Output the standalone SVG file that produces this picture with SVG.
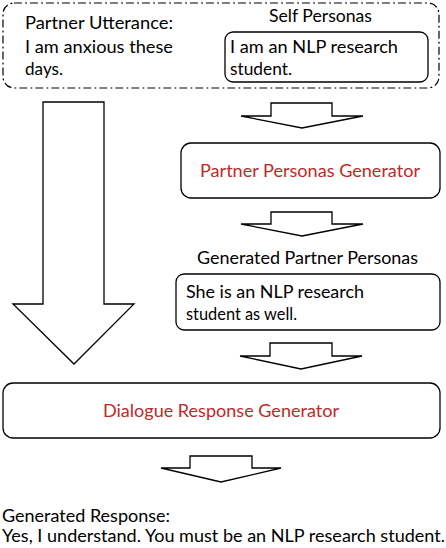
<svg xmlns="http://www.w3.org/2000/svg" width="446" height="548" viewBox="0 0 446 548">
<style>
text{font-family:"Lato","Liberation Sans",sans-serif;font-size:17.5px;fill:#000}
.red{fill:#C0282A}
.box{fill:#fff;stroke:#000;stroke-width:1.3}
.arrow{fill:#fff;stroke:#000;stroke-width:1.3;stroke-linejoin:miter}
.dash{fill:none;stroke:#000;stroke-width:1.2;stroke-dasharray:8 3 2 3}
</style>
<rect width="446" height="548" fill="#fff"/>
<g id="input">
<rect class="dash" x="3" y="3" width="436" height="85" rx="11"/>
<text x="25" y="29" textLength="148" lengthAdjust="spacingAndGlyphs">Partner Utterance:</text>
<text x="25" y="53" textLength="148" lengthAdjust="spacingAndGlyphs">I am anxious these</text>
<text x="25" y="75" textLength="38" lengthAdjust="spacingAndGlyphs">days.</text>
<text x="269" y="22" textLength="103" lengthAdjust="spacingAndGlyphs">Self Personas</text>
</g>
<g id="self-personas">
<rect class="box" x="225" y="32" width="203" height="50" rx="8"/>
<text x="230" y="53" textLength="168" lengthAdjust="spacingAndGlyphs">I am an NLP research</text>
<text x="230" y="75" textLength="62" lengthAdjust="spacingAndGlyphs">student.</text>
</g>
<g id="partner-personas-generator">
<rect class="box" x="181" y="143" width="259" height="55" rx="10"/>
<text class="red" x="200" y="177" textLength="220" lengthAdjust="spacingAndGlyphs">Partner Personas Generator</text>
</g>
<g id="generated-partner-personas">
<text x="197" y="264" textLength="221" lengthAdjust="spacingAndGlyphs">Generated Partner Personas</text>
<rect class="box" x="176" y="274" width="264" height="56" rx="8"/>
<text x="186" y="298" textLength="178" lengthAdjust="spacingAndGlyphs">She is an NLP research</text>
<text x="186" y="320" textLength="111" lengthAdjust="spacingAndGlyphs">student as well.</text>
</g>
<g id="dialogue-response-generator">
<rect class="box" x="3" y="383" width="437" height="55" rx="10"/>
<text class="red" x="103" y="417" textLength="236" lengthAdjust="spacingAndGlyphs">Dialogue Response Generator</text>
</g>
<g id="generated-response">
<text x="2" y="522" textLength="168" lengthAdjust="spacingAndGlyphs">Generated Response:</text>
<text x="2" y="542" textLength="443" lengthAdjust="spacingAndGlyphs">Yes, I understand. You must be an NLP research student.</text>
</g>
<g id="connectors">
<polygon class="arrow" points="43,102 104,102 104,304 134,304 74,364 13,304 43,304"/>
<polygon class="arrow" points="271,103 332,103 332,116 363,116 302,128 241,116 271,116"/>
<polygon class="arrow" points="271,212 332,212 332,224 363,224 302,236 241,224 271,224"/>
<polygon class="arrow" points="270,343 332,343 332,356 362,356 301,369 240,356 270,356"/>
<polygon class="arrow" points="190,456 252,456 252,468 281,468 221,482 161,468 190,468"/>
</g>
</svg>
